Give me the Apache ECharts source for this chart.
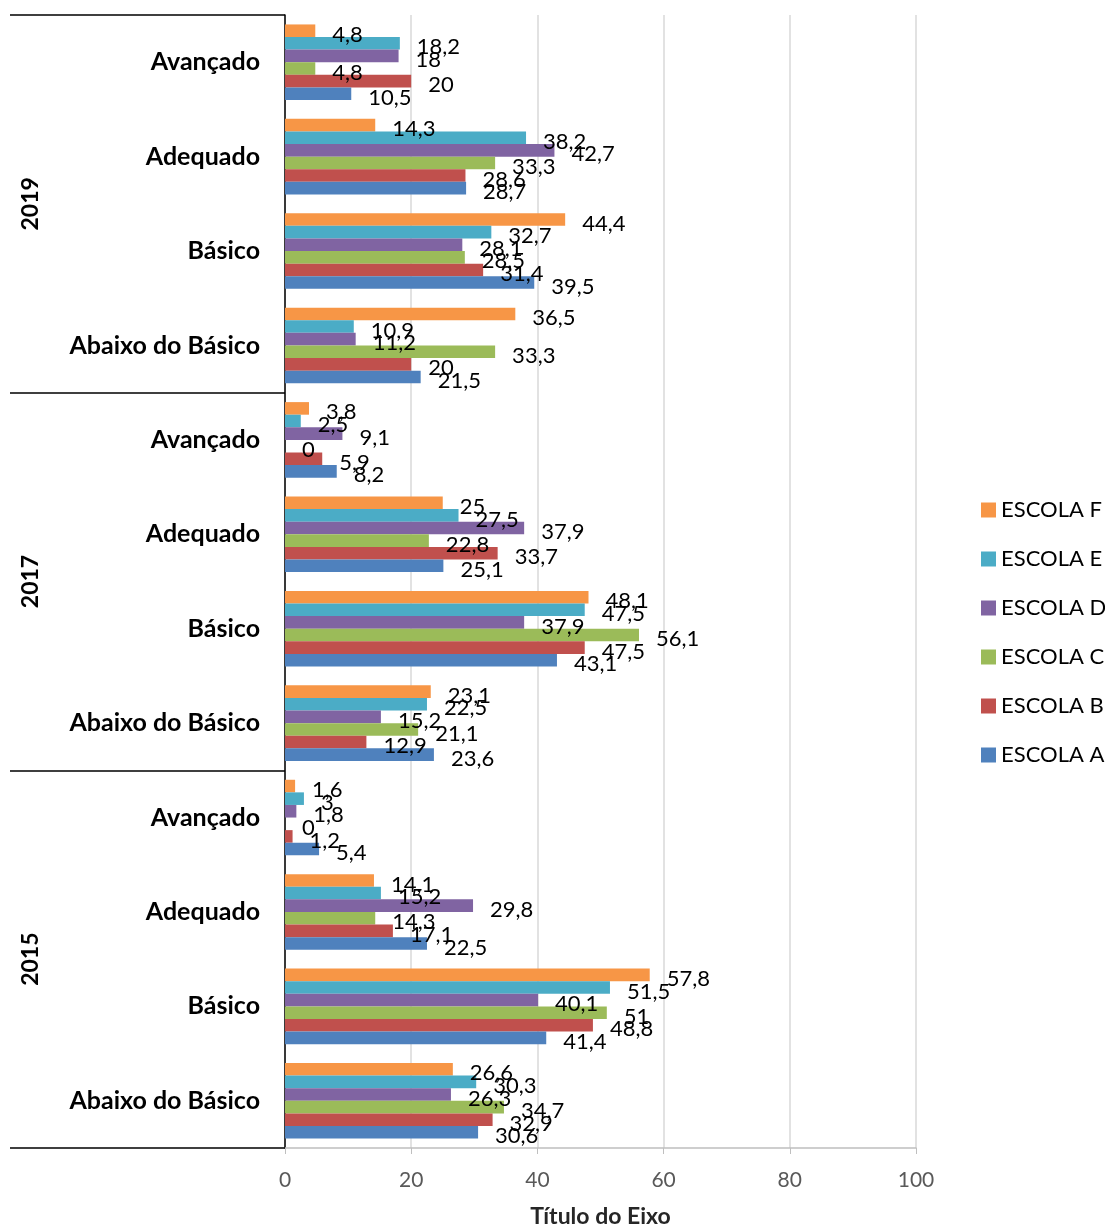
<!DOCTYPE html>
<html>
<head>
<meta charset="utf-8">
<script src="https://cdn.jsdelivr.net/npm/echarts@6/dist/echarts.min.js"></script>
<style>
html,body{margin:0;padding:0;background:#fff;}
#chart{width:1105px;height:1229px;}
</style>
</head>
<body>
<div id="chart"></div>
<script>
// Categories bottom -> top
const levels = ['Abaixo do Básico','Básico','Adequado','Avançado',
                'Abaixo do Básico','Básico','Adequado','Avançado',
                'Abaixo do Básico','Básico','Adequado','Avançado'];
const years = ['2015','2017','2019'];
const seriesNames = ['ESCOLA A','ESCOLA B','ESCOLA C','ESCOLA D','ESCOLA E','ESCOLA F'];
const colors = ['#4F81BD','#C0504D','#9BBB59','#8064A2','#4BACC6','#F79646'];
const escolaA = [30.6,41.4,22.5,5.4, 23.6,43.1,25.1,8.2, 21.5,39.5,28.7,10.5];
const escolaB = [32.9,48.8,17.1,1.2, 12.9,47.5,33.7,5.9, 20,31.4,28.6,20];
const escolaC = [34.7,51,14.3,0, 21.1,56.1,22.8,0, 33.3,28.5,33.3,4.8];
const escolaD = [26.3,40.1,29.8,1.8, 15.2,37.9,37.9,9.1, 11.2,28.1,42.7,18];
const escolaE = [30.3,51.5,15.2,3, 22.5,47.5,27.5,2.5, 10.9,32.7,38.2,18.2];
const escolaF = [26.6,57.8,14.1,1.6, 23.1,48.1,25,3.8, 36.5,44.4,14.3,4.8];
const xTicks = [0,20,40,60,80,100];

const font = 'Lato,"Open Sans",sans-serif';
const allData = [escolaA,escolaB,escolaC,escolaD,escolaE,escolaF];

// ECharts stacks horizontal-bar series top -> bottom, so feed F first so A ends up at the bottom
const order = [5,4,3,2,1,0];

const chart = echarts.init(document.getElementById('chart'));
chart.setOption({
  animation:false,
  textStyle:{fontFamily:font},
  grid:{left:285,right:189,top:15,bottom:81,containLabel:false,outerBoundsMode:'none'},
  legend:{
    orient:'vertical',left:976,top:494,
    itemWidth:15,itemHeight:15,itemGap:27,icon:'rect',
    data:['ESCOLA F','ESCOLA E','ESCOLA D','ESCOLA C','ESCOLA B','ESCOLA A'],
    textStyle:{fontSize:22,color:'#000',fontFamily:font}
  },
  xAxis:{
    type:'value',min:xTicks[0],max:xTicks[xTicks.length-1],interval:20,
    axisLine:{show:true,lineStyle:{color:'#BFBFBF',width:1.5}},
    axisTick:{show:true,length:6,lineStyle:{color:'#BFBFBF'}},
    splitLine:{show:true,lineStyle:{color:'#D9D9D9',width:1.5}},
    axisLabel:{fontSize:21,color:'#595959',margin:22,fontFamily:font},
    name:'Título do Eixo',nameLocation:'middle',nameGap:57,
    nameTextStyle:{fontSize:23,fontWeight:'bold',color:'#262626',fontFamily:font}
  },
  yAxis:[{
    type:'category',data:levels,
    axisLine:{show:true,lineStyle:{color:'#000',width:1.5}},
    axisTick:{show:false},
    axisLabel:{fontSize:25,fontWeight:'bold',color:'#000',margin:25,fontFamily:font}
  },{
    type:'category',data:years,position:'left',
    axisLine:{show:false},
    axisTick:{show:true,length:275,lineStyle:{color:'#000',width:1.5}},
    axisLabel:{rotate:90,fontSize:23,fontWeight:'bold',color:'#000',margin:243,fontFamily:font}
  }],
  series: order.map(i=>({
    name:seriesNames[i],type:'bar',yAxisIndex:0,data:allData[i],
    barGap:'0%',barCategoryGap:'20%',
    itemStyle:{color:colors[i]},
    label:{show:true,position:'right',distance:17,offset:[0,4],
      fontSize:22,color:'#000',fontFamily:font,
      formatter:p=>String(p.value).replace('.',',')}
  }))
});
</script>
</body>
</html>
